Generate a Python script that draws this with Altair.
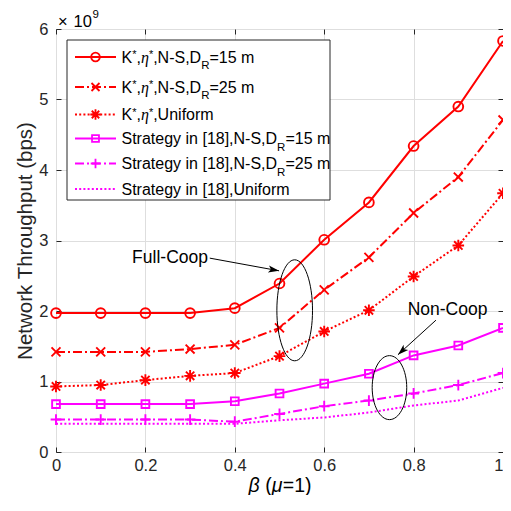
import altair as alt
import pandas as pd

# ---------------- data ----------------
beta = [0.0, 0.1, 0.2, 0.3, 0.4, 0.5, 0.6, 0.7, 0.8, 0.9, 1.0]
k_ns15 = [1.97, 1.97, 1.97, 1.97, 2.04, 2.39, 3.01, 3.54, 4.34, 4.90, 5.83]
k_ns25 = [1.42, 1.42, 1.42, 1.46, 1.52, 1.76, 2.30, 2.76, 3.39, 3.90, 4.71]
k_uni = [0.93, 0.95, 1.02, 1.08, 1.12, 1.36, 1.71, 2.01, 2.49, 2.93, 3.67]
s_ns15 = [0.68, 0.68, 0.68, 0.68, 0.72, 0.83, 0.97, 1.11, 1.37, 1.51, 1.76]
s_ns25 = [0.46, 0.46, 0.46, 0.46, 0.43, 0.54, 0.65, 0.73, 0.83, 0.95, 1.12]
s_uni = [0.40, 0.40, 0.40, 0.40, 0.40, 0.45, 0.49, 0.56, 0.66, 0.73, 0.91]

x_ticks = [0, 0.2, 0.4, 0.6, 0.8, 1]
y_ticks = [0, 1, 2, 3, 4, 5, 6]
y_title = "Network Throughput (bps)"

ann_text = ["Full-Coop", "Non-Coop"]
ann_x = [0.340, 0.876]
ann_y = [2.75, 2.01]
arrow_x1 = [0.344, 0.850]
arrow_y1 = [2.75, 1.87]
arrow_x2 = [0.499, 0.765]
arrow_y2 = [2.57, 1.38]
arrow_angle = [99.7, 227.4]
ell_x = [0.534, 0.746]
ell_y = [2.01, 0.913]
ell_h = [101, 64]
ell_ratio = [0.353, 0.54]

RED = "#ff0000"
MAG = "#ff00ff"
INK = "#262626"
FONT = "Liberation Sans"

W, H = 447, 423
PAD_T = 21
PAD_L = 48
xs = alt.Scale(domain=[0, 1], nice=False, zero=False)
ys = alt.Scale(domain=[0, 6], nice=False, zero=False)

P_X = "M-1,-1L1,1M-1,1L1,-1"
P_PLUS = "M0,-1L0,1M-1,0L1,0"
P_AST = "M0,-1L0,1M-1,0L1,0M-0.72,-0.72L0.72,0.72M-0.72,0.72L0.72,-0.72"
P_ARROW = "M0,0L0.55,1.7L0,1.3L-0.55,1.7Z"


def ellipse_path(a):
    k = 0.5523
    return (f"M0,-1C{k*a:.4f},-1 {a:.4f},{-k:.4f} {a:.4f},0"
            f"C{a:.4f},{k:.4f} {k*a:.4f},1 0,1"
            f"C{-k*a:.4f},1 {-a:.4f},{k:.4f} {-a:.4f},0"
            f"C{-a:.4f},{-k:.4f} {-k*a:.4f},-1 0,-1Z")


series = [
    (k_ns15, RED, None, "circle", 95),
    (k_ns25, RED, [9, 3, 2, 3], P_X, 80),
    (k_uni, RED, [2, 2.2], P_AST, 135),
    (s_ns15, MAG, None, "square", 60),
    (s_ns25, MAG, [9, 3, 2, 3], P_PLUS, 115),
    (s_uni, MAG, [2, 2.2], None, 0),
]

layers = []

# ---- axes (bottom/left with labels+grid, top/right ticks only) ----
axdf = pd.DataFrame({"beta": beta, "v": k_ns15})
layers.append(
    alt.Chart(axdf).mark_point(opacity=0).encode(
        x=alt.X("beta:Q", scale=xs, axis=alt.Axis(
            orient="bottom", values=x_ticks, format="~g", title=None,
            grid=True, gridColor="#dedede", domain=False,
            tickSize=5, tickColor=INK, offset=-5, labelPadding=5,
            labelFont=FONT, labelFontSize=16.5, labelColor=INK, labelFlush=False,
            labelAlign={"condition": {"test": "datum.value == 1", "value": "right"},
                        "value": "center"})),
        y=alt.Y("v:Q", scale=ys, axis=alt.Axis(
            orient="left", values=y_ticks, title=y_title,
            grid=True, gridColor="#dedede", domain=False,
            tickSize=5, tickColor=INK, offset=-5, labelPadding=8,
            labelFont=FONT, labelFontSize=16.5, labelColor=INK, labelFlush=False,
            titleFont=FONT, titleFontSize=20.5, titleFontWeight="normal",
            titleColor=INK, titlePadding=3)),
    )
)
layers.append(
    alt.Chart(axdf).mark_point(opacity=0).encode(
        x=alt.X("beta:Q", scale=xs, axis=alt.Axis(
            orient="top", values=x_ticks, labels=False, title=None, grid=False,
            domain=False, tickSize=5, tickColor=INK, offset=-5)),
        y=alt.Y("v:Q", scale=ys, axis=alt.Axis(
            orient="right", values=y_ticks, labels=False, title=None, grid=False,
            domain=False, tickSize=5, tickColor=INK, offset=-5)),
    )
)

# ---- series ----
for vals, col, dash, shape, size in series:
    df = pd.DataFrame({"beta": beta, "v": vals})
    base = alt.Chart(df).encode(
        x=alt.X("beta:Q", scale=xs, axis=None),
        y=alt.Y("v:Q", scale=ys, axis=None),
    )
    if dash:
        layers.append(base.mark_line(color=col, strokeWidth=2, strokeDash=dash))
    else:
        layers.append(base.mark_line(color=col, strokeWidth=2))
    if shape:
        layers.append(base.mark_point(shape=shape, size=size, color=col,
                                      strokeWidth=1.9, filled=False, opacity=1))

# ---- annotations ----
for i in range(2):
    adf = pd.DataFrame({"x": [ann_x[i]], "y": [ann_y[i]], "t": [ann_text[i]],
                        "x1": [arrow_x1[i]], "y1": [arrow_y1[i]],
                        "x2": [arrow_x2[i]], "y2": [arrow_y2[i]],
                        "ex": [ell_x[i]], "ey": [ell_y[i]]})
    layers.append(alt.Chart(adf).mark_text(
        font=FONT, fontSize=17.5, color="#000000",
        align="right" if i == 0 else "center", baseline="middle").encode(
        x=alt.X("x:Q", scale=xs, axis=None), y=alt.Y("y:Q", scale=ys, axis=None),
        text="t:N"))
    layers.append(alt.Chart(adf).mark_rule(color="#000000", strokeWidth=1).encode(
        x=alt.X("x1:Q", scale=xs, axis=None), y=alt.Y("y1:Q", scale=ys, axis=None),
        x2="x2:Q", y2="y2:Q"))
    layers.append(alt.Chart(adf).mark_point(
        shape=P_ARROW, size=160, filled=True, color="#000000", opacity=1,
        angle=arrow_angle[i], strokeWidth=0).encode(
        x=alt.X("x2:Q", scale=xs, axis=None), y=alt.Y("y2:Q", scale=ys, axis=None)))
    layers.append(alt.Chart(adf).mark_point(
        shape=ellipse_path(ell_ratio[i]), size=ell_h[i] ** 2, filled=False,
        color="#000000", strokeWidth=1, opacity=1).encode(
        x=alt.X("ex:Q", scale=xs, axis=None), y=alt.Y("ey:Q", scale=ys, axis=None)))

# ---- text helpers (layout only) ----
one = pd.DataFrame({"a": [0]})
ADV = {"K": 667, "*": 389, ",": 278, "N": 722, "-": 333, "S": 667, "D": 722,
       "R": 722, "=": 584, "1": 556, "5": 556, "2": 556, " ": 278, "m": 833,
       "U": 722, "n": 556, "i": 222, "f": 278, "o": 556, "r": 333, "t": 278,
       "a": 556, "e": 556, "g": 556, "y": 500, "[": 278, "8": 556, "]": 278,
       "(": 333, ")": 333, "η": 500, "β": 580, "μ": 576}


def adv(s, size):
    return sum(ADV.get(c, 556) for c in s) * size / 1000.0


def txt(t, x, y, size, style="normal", font=FONT, align="left"):
    return alt.Chart(one).mark_text(
        text=t, font=font, fontSize=size, fontStyle=style, align=align,
        baseline="alphabetic", color="#000000").encode(
        x=alt.value(x), y=alt.value(y))


def rich(segs, x0, by, main=16):
    out = []
    x = x0
    for s, kind in segs:
        if kind == "gap":
            x += adv(s, main)
            continue
        size, y, style, font = main, by, "normal", FONT
        if kind == "sup":
            size, y = 11, by - 4.5
        elif kind == "sub":
            size, y = 11.5, by + 6.5
        elif kind == "eta":
            style, font = "italic", "Liberation Serif"
        elif kind == "it":
            style = "italic"
        out.append(txt(s, x, y, size, style, font))
        x += adv(s, size)
    return out


# page coords -> plot coords
def py(page_y):
    return page_y - 8 - PAD_T


def px(page_x):
    return page_x - 8 - PAD_L


# ---- x title and exponent ----
xt = [("β", "it"), (" ", "gap"), ("(", "n"), ("μ", "it"), ("=1)", "n")]
xt_w = sum(adv(s, 19.5) for s, _ in xt)
layers += rich(xt, px(280) - xt_w / 2, py(492), main=19.5)
layers.append(txt("×", px(58), py(27), 16.5))
layers.append(txt("10", px(73.5), py(27), 16.5))
layers.append(txt("9", px(92.5), py(18), 11.5))

# ---- custom legend ----
leg_labels = [
    [("K", "n"), ("*", "sup"), (",", "n"), ("η", "eta"), ("*", "sup"), (",N-S,D", "n"), ("R", "sub"), ("=15 m", "n")],
    [("K", "n"), ("*", "sup"), (",", "n"), ("η", "eta"), ("*", "sup"), (",N-S,D", "n"), ("R", "sub"), ("=25 m", "n")],
    [("K", "n"), ("*", "sup"), (",", "n"), ("η", "eta"), ("*", "sup"), (",Uniform", "n")],
    [("Strategy in [18],N-S,D", "n"), ("R", "sub"), ("=15 m", "n")],
    [("Strategy in [18],N-S,D", "n"), ("R", "sub"), ("=25 m", "n")],
    [("Strategy in [18],Uniform", "n")],
]
rows_page_y = [57.0, 87.0, 114.5, 138.5, 163.5, 189.0]

layers.append(alt.Chart(one).mark_rect(fill="white", stroke=INK, strokeWidth=1).encode(
    x=alt.value(px(67)), x2=alt.value(px(330)), y=alt.value(py(40)), y2=alt.value(py(200))))

for (vals, col, dash, shape, size), rp, lab in zip(series, rows_page_y, leg_labels):
    ry = py(rp)
    if dash:
        layers.append(alt.Chart(one).mark_rule(color=col, strokeWidth=2, strokeDash=dash).encode(
            x=alt.value(px(75)), x2=alt.value(px(116)), y=alt.value(ry)))
    else:
        layers.append(alt.Chart(one).mark_rule(color=col, strokeWidth=2).encode(
            x=alt.value(px(75)), x2=alt.value(px(116)), y=alt.value(ry)))
    if shape:
        layers.append(alt.Chart(one).mark_point(shape=shape, size=size * 0.8, color=col,
                                                strokeWidth=1.8, filled=False, opacity=1).encode(
            x=alt.value(px(95.5)), y=alt.value(ry)))
    layers += rich(lab, px(121.5), ry + 5.7)

chart = alt.layer(*layers).resolve_axis(x="independent", y="independent").properties(
    width=W, height=H,
    autosize=alt.AutoSizeParams(type="none"),
    padding={"left": PAD_L, "top": PAD_T, "right": 0, "bottom": 43},
    background="white",
).configure_view(stroke=INK, strokeWidth=1)

chart.save("out.html", embed_options={"renderer": "svg", "actions": False})
